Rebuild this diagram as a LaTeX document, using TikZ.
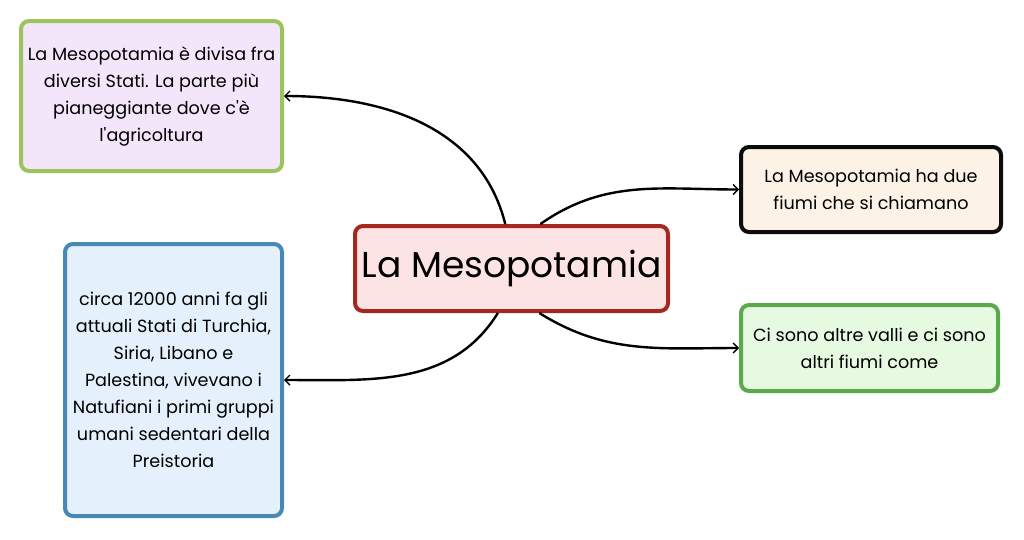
\documentclass[tikz,border=0pt]{standalone}
\usepackage{fontspec}
\setmainfont{Poppins}
\usepackage{xcolor}
\usetikzlibrary{arrows.meta}

\definecolor{rootline}{RGB}{165,40,32}
\definecolor{rootfill}{RGB}{253,228,228}
\definecolor{agriline}{RGB}{155,196,92}
\definecolor{agrifill}{RGB}{243,230,250}
\definecolor{natuline}{RGB}{72,136,180}
\definecolor{natufill}{RGB}{228,241,252}
\definecolor{fiumline}{RGB}{12,12,12}
\definecolor{fiumfill}{RGB}{253,242,230}
\definecolor{valline}{RGB}{90,170,76}
\definecolor{valfill}{RGB}{230,250,226}

\begin{document}
\begin{tikzpicture}[x=1pt, y=1pt,
		box/.style={rectangle, rounded corners=8pt, line width=4pt, align=center,
			inner sep=0pt, font=\fontsize{17.6}{27}\selectfont},
		link/.style={-{Straight Barb[length=5pt,width=10pt,line width=1.4pt]},
			line width=2.4pt}]
	\useasboundingbox (0,0) rectangle (1024,-539);

	\node (root) [box, draw=rootline, fill=rootfill, minimum width=313, minimum height=85,
		font=\fontsize{36}{42}\selectfont] at (511.5,-268.5) {La Mesopotamia};

	\node (agri) [box, draw=agriline, fill=agrifill, minimum width=261, minimum height=150]
		at (151.5,-96) {La Mesopotamia è divisa fra\\diversi Stati. La parte più\\pianeggiante dove c\textquotesingle è\\l\textquotesingle agricoltura};
	\node (natu) [box, draw=natuline, fill=natufill, minimum width=217, minimum height=272]
		at (173.5,-380) {circa 12000 anni fa gli\\attuali Stati di Turchia,\\Siria, Libano e\\Palestina, vivevano i\\Natufiani i primi gruppi\\umani sedentari della\\Preistoria};
	\node (fium) [box, draw=fiumline, fill=fiumfill, minimum width=260, minimum height=85]
		at (871,-189.5) {La Mesopotamia ha due\\fiumi che si chiamano};
	\node (vall) [box, draw=valline, fill=valfill, minimum width=257, minimum height=86]
		at (869.5,-348) {Ci sono altre valli e ci sono\\altri fiumi come};

	\foreach \a/\o/\b/\i in {98/104/agri.east/0, 253/238/natu.east/0,
			57/35/fium.west/180, 302/-32/vall.west/180} {
			\draw [link] (root.\a) to [out=\o, in=\i] (\b);
		}
\end{tikzpicture}
\end{document}
